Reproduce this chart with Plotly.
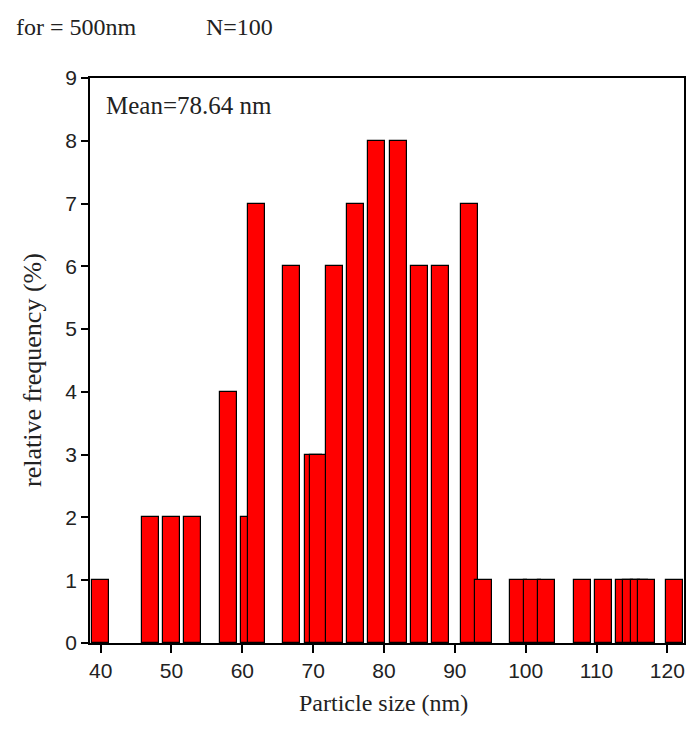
import plotly.graph_objects as go

# Bar centres (nm) and relative frequency (%), in drawing order
sizes = [40, 47, 50, 53, 58, 61, 62, 67, 70, 70.75, 73, 76, 79, 82, 85, 88, 92, 94,
         99, 101, 103, 108, 111, 114, 115, 116, 117, 121]
freq = [1, 2, 2, 2, 4, 2, 7, 6, 3, 3, 6, 7, 8, 8, 6, 6, 7, 1,
        1, 1, 1, 1, 1, 1, 1, 1, 1, 1]
bar_width = 2.4
x_ticks = [40, 50, 60, 70, 80, 90, 100, 110, 120]
y_ticks = list(range(0, 10))

serif = "Liberation Serif, Times New Roman, serif"
sans = "Liberation Sans, Arial, sans-serif"

W, H = 687, 736
L, R, T, B = 90, 3, 78, 93
pw, ph = W - L - R, H - T - B


def px(x):
    return (x - L) / pw


def py(y):
    return (H - B - y) / ph


fig = go.Figure(go.Bar(
    x=sizes, y=freq, width=[bar_width] * len(sizes),
    marker=dict(color="#FF0000", line=dict(color="black", width=1.2)),
    showlegend=False,
))

fig.update_layout(
    width=W, height=H,
    margin=dict(l=L, r=R, t=T, b=B, autoexpand=False),
    plot_bgcolor="white", paper_bgcolor="white",
    bargap=0,
    xaxis=dict(
        range=[38.5, 122.35], tickvals=x_ticks, ticks="outside", ticklen=8,
        tickwidth=1.5, tickcolor="black", automargin=False,
        showline=True, linecolor="black", linewidth=1.5, mirror=True,
        showgrid=False, zeroline=False,
        tickfont=dict(family=sans, size=21, color="#222"),
    ),
    yaxis=dict(
        range=[0, 9], tickvals=y_ticks, ticks="outside", ticklen=7,
        tickwidth=1.5, tickcolor="black", automargin=False,
        showline=True, linecolor="black", linewidth=1.5, mirror=True,
        showgrid=False, zeroline=False,
        tickfont=dict(family=sans, size=21, color="#222"),
    ),
    annotations=[
        dict(text="relative frequency (%)", xref="paper", yref="paper",
             x=px(32), y=py(370), textangle=-90, xanchor="center", yanchor="middle",
             showarrow=False, font=dict(family=serif, size=26, color="#222")),
        dict(text="Particle size (nm)", xref="paper", yref="paper",
             x=px(383), y=py(703), xanchor="center", yanchor="middle",
             showarrow=False, font=dict(family=serif, size=24, color="#222")),
        dict(text="for = 500nm", xref="paper", yref="paper", x=px(14), y=py(27),
             xanchor="left", yanchor="middle", showarrow=False,
             font=dict(family=serif, size=24, color="#222")),
        dict(text="N=100", xref="paper", yref="paper", x=px(204), y=py(27),
             xanchor="left", yanchor="middle", showarrow=False,
             font=dict(family=serif, size=24, color="#222")),
        dict(text="Mean=78.64 nm", xref="paper", yref="paper", x=px(104), y=py(105),
             xanchor="left", yanchor="middle", showarrow=False,
             font=dict(family=serif, size=25, color="#222")),
    ],
)

fig.write_html("out.html", config={"displayModeBar": False},
               post_script="document.body.style.margin='0';")
